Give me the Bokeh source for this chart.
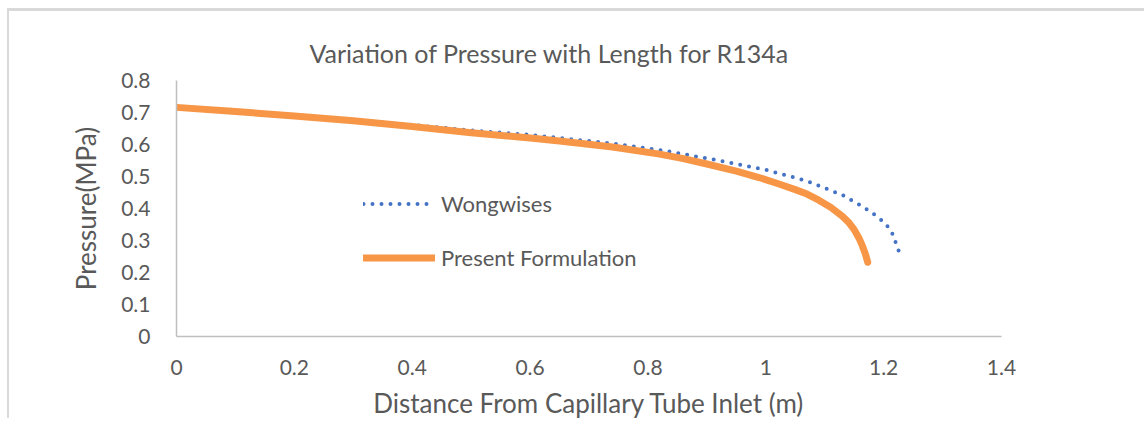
from bokeh.plotting import figure
from bokeh.models import Range1d, FixedTicker, Legend, LegendItem
from bokeh.embed import file_html
from bokeh.resources import INLINE

# ---- data ----
x_wong = [0, 0.1, 0.2, 0.3, 0.4, 0.5, 0.6, 0.74, 0.83, 0.92, 1.0, 1.07, 1.13, 1.165, 1.19, 1.202, 1.212, 1.217, 1.222, 1.228]
p_wong = [0.716, 0.703, 0.690, 0.677, 0.661, 0.644, 0.630, 0.603, 0.580, 0.550, 0.521, 0.486, 0.442, 0.405, 0.374, 0.354, 0.333, 0.312, 0.285, 0.255]

x_pres = [0, 0.1, 0.2, 0.3, 0.4, 0.5, 0.6, 0.65, 0.74, 0.82, 0.86, 0.9, 0.95, 0.99, 1.02, 1.05, 1.07, 1.09, 1.11,
          1.13, 1.14, 1.15, 1.158, 1.164, 1.169, 1.173]
p_pres = [0.716, 0.703, 0.689, 0.674, 0.656, 0.637, 0.620, 0.611, 0.592, 0.570, 0.556, 0.539, 0.517, 0.496, 0.478,
          0.459, 0.445, 0.426, 0.404, 0.376, 0.358, 0.334, 0.308, 0.283, 0.258, 0.232]

x_ticks = [0, 0.2, 0.4, 0.6, 0.8, 1.0, 1.2, 1.4]
x_tick_labels = ["0", "0.2", "0.4", "0.6", "0.8", "1", "1.2", "1.4"]
y_ticks = [0, 0.1, 0.2, 0.3, 0.4, 0.5, 0.6, 0.7, 0.8]
y_tick_labels = ["0", "0.1", "0.2", "0.3", "0.4", "0.5", "0.6", "0.7", "0.8"]

series_names = ["Wongwises", "Present Formulation"]
title_text = "Variation of Pressure with Length for R134a"
x_label = "Distance From Capillary Tube Inlet (m)"
y_label = "Pressure(MPa)"

FONT = "Lato"
TXT = "#595959"
AXC = "#BFBFBF"

p = figure(width=1137, height=410, output_backend="svg", toolbar_location=None,
           x_range=Range1d(0, 1.4), y_range=Range1d(0, 0.8),
           min_border_left=167, min_border_right=145, min_border_top=69, min_border_bottom=79)
p.styles = {"margin-left": "7px", "margin-top": "8px",
            "border-top": "3px solid #D9D9D9", "border-left": "2px solid #D9D9D9"}

p.outline_line_color = None
p.xgrid.visible = False
p.ygrid.visible = False
p.background_fill_color = "white"
p.border_fill_color = "white"

p.title.text = title_text
p.title.align = "left"
p.title.offset = 133
p.title.standoff = 25
p.title.text_font = FONT
p.title.text_font_size = "25px"
p.title.text_font_style = "normal"
p.title.text_color = TXT

for ax, ticks, labels in ((p.xaxis[0], x_ticks, x_tick_labels), (p.yaxis[0], y_ticks, y_tick_labels)):
    ax.ticker = FixedTicker(ticks=ticks)
    ax.major_label_overrides = dict(zip(ticks, labels))
    ax.major_tick_line_color = None
    ax.minor_tick_line_color = None
    ax.major_tick_out = 0
    ax.major_tick_in = 0
    ax.axis_line_color = AXC
    ax.axis_line_width = 1.5
    ax.major_label_text_font = FONT
    ax.major_label_text_font_size = "21px"
    ax.major_label_text_color = TXT
    ax.axis_label_text_font = FONT
    ax.axis_label_text_font_size = "26px"
    ax.axis_label_text_font_style = "normal"
    ax.axis_label_text_color = TXT

p.xaxis.axis_label = x_label
p.yaxis.axis_label = y_label
p.xaxis.major_label_standoff = 23
p.xaxis.axis_label_standoff = 9
p.yaxis.major_label_standoff = 26
p.yaxis.axis_label_standoff = 16

r_wong = p.line(x_wong, p_wong, line_color="#4472C4", line_width=4, line_dash="0 9", line_cap="round")
r_pres = p.line(x_pres, p_pres, line_color="#F79646", line_width=7, line_cap="round", line_join="round")

legend = Legend(items=[LegendItem(label=series_names[0], renderers=[r_wong]),
                       LegendItem(label=series_names[1], renderers=[r_pres])],
                location=(187, 65))
legend.border_line_color = None
legend.background_fill_alpha = 0
legend.padding = 0
legend.margin = 0
legend.glyph_width = 72
legend.glyph_height = 27
legend.label_height = 27
legend.spacing = 27
legend.label_standoff = 6
legend.label_text_font = FONT
legend.label_text_font_size = "22px"
legend.label_text_color = TXT
p.add_layout(legend, "center")

open("out.html", "w").write(file_html(p, INLINE))
